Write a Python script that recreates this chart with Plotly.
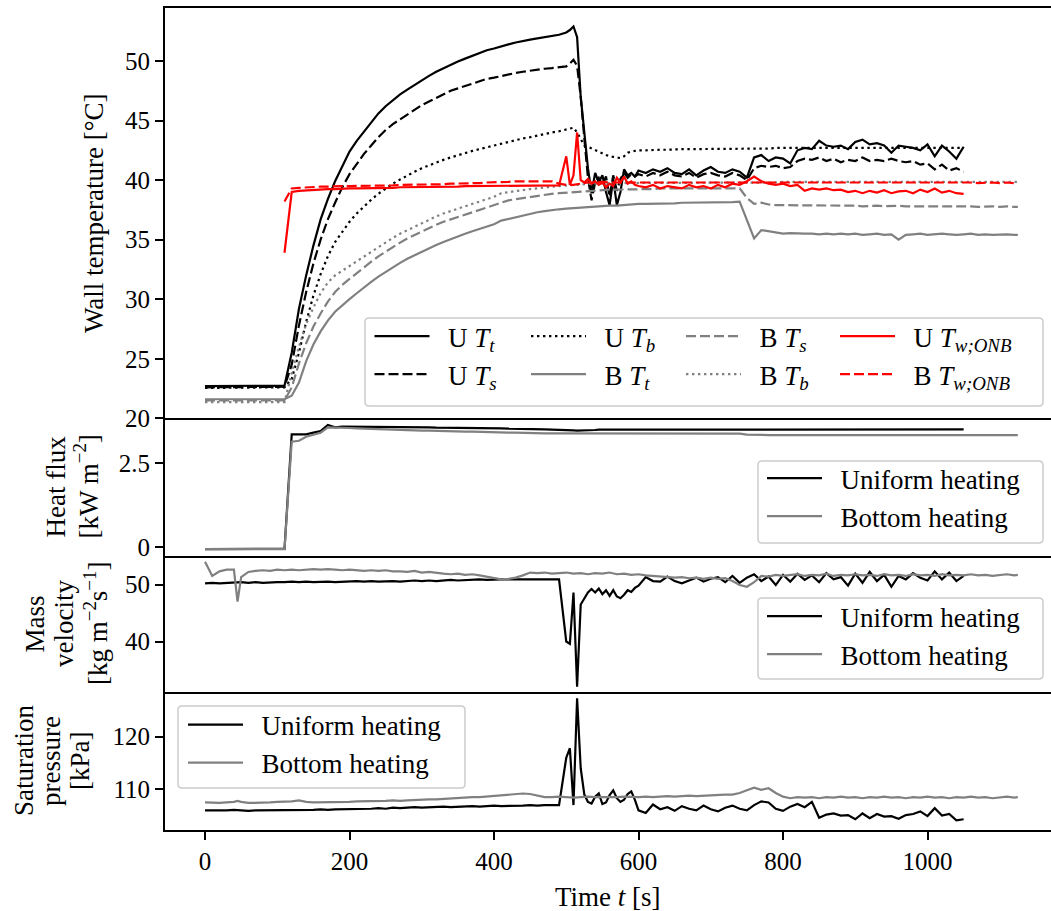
import plotly.graph_objects as go
from plotly.subplots import make_subplots

FONT = "Liberation Serif"
GRAY = "#808080"
RED = "#ff0000"

# ---------------------------------------------------------------------------
# Sampling times [s]: uniform-heating run (U) and bottom-heating run (B)
# ---------------------------------------------------------------------------
t_u = list(range(0, 500, 10)) + list(range(500, 600, 5)) + list(range(600, 1051, 10))
t_b = [0, 10, 20, 30, 40, 45, 50] + list(range(60, 1121, 10)) + [1125]

# ---------------------------------------------------------------------------
# Wall temperatures [degC]
# ---------------------------------------------------------------------------
u_Tt = [
    22.7, 22.7, 22.7, 22.7, 22.7, 22.7, 22.7, 22.7, 22.7, 22.7,
    22.7, 22.75, 25.5, 29.2, 32.0, 34.5, 36.7, 38.4, 39.9, 41.2,
    42.4, 43.3, 44.1, 44.9, 45.6, 46.2, 46.7, 47.2, 47.6, 48.0,
    48.4, 48.75, 49.1, 49.4, 49.7, 49.95, 50.2, 50.45, 50.7, 50.9,
    51.05, 51.25, 51.4, 51.55, 51.7, 51.8, 51.9, 52.0, 52.1, 52.2,
    52.4, 52.6, 52.9, 52.0, 47.0, 43.8, 41.0, 38.9, 40.6, 39.8,
    40.4, 39.0, 37.9, 40.1, 37.9, 39.0, 40.9, 40.4, 40.6, 40.3,
    40.8, 40.6, 40.9, 40.7, 41.0, 40.6, 40.5, 40.9, 40.4, 40.8,
    41.1, 40.7, 40.6, 40.9, 40.7, 40.2, 41.9, 42.1, 41.6, 41.9,
    41.8, 41.4, 42.5, 42.7, 42.6, 43.3, 42.9, 42.8, 42.9, 42.6,
    43.2, 43.4, 43.0, 43.1, 42.9, 42.3, 42.9, 42.8, 42.7, 42.5,
    43.0, 42.0, 42.9, 42.4, 41.8, 42.8,
]
u_Ts = [
    22.6, 22.6, 22.6, 22.6, 22.6, 22.6, 22.6, 22.6, 22.6, 22.6,
    22.6, 22.65, 24.5, 27.8, 30.6, 33.0, 35.0, 36.7, 38.1, 39.4,
    40.5, 41.4, 42.2, 42.9, 43.6, 44.2, 44.7, 45.1, 45.5, 45.9,
    46.3, 46.6, 46.9, 47.2, 47.5, 47.7, 47.9, 48.1, 48.3, 48.5,
    48.6, 48.75, 48.9, 49.0, 49.1, 49.2, 49.3, 49.35, 49.4, 49.45,
    49.55, 49.8, 50.1, 49.6, 47.0, 43.5, 40.2, 38.3, 39.8, 40.2,
    39.6, 40.3, 38.6, 40.4, 39.1, 40.1, 40.6, 40.2, 40.5, 40.3,
    40.5, 40.3, 40.6, 40.4, 40.7, 40.4, 40.3, 40.6, 40.2, 40.5,
    40.6, 40.4, 40.3, 40.6, 40.4, 40.0, 41.0, 41.2, 41.1, 41.2,
    41.0, 41.1, 41.6, 41.8, 41.7, 41.9, 41.6, 41.8, 41.5, 41.7,
    41.6, 41.9, 41.6, 41.7, 41.6, 41.8, 41.6, 41.5, 41.6, 41.3,
    41.4, 40.9, 41.3, 40.8, 41.0, 40.7,
]
u_Tb = [
    22.55, 22.55, 22.55, 22.55, 22.55, 22.55, 22.55, 22.55, 22.55, 22.55,
    22.55, 22.6, 23.3, 25.5, 28.1, 30.3, 32.1, 33.6, 34.8, 35.7,
    36.5, 37.2, 37.8, 38.35, 38.85, 39.3, 39.7, 40.05, 40.4, 40.7,
    41.0, 41.25, 41.5, 41.7, 41.9, 42.1, 42.3, 42.45, 42.6, 42.75,
    42.9, 43.1, 43.25, 43.4, 43.5, 43.6, 43.75, 43.85, 44.0, 44.1,
    44.25, 44.35, 44.4, 44.0, 43.4, 42.9, 42.8, 42.65, 42.5, 42.35,
    42.2, 42.1, 42.0, 41.95, 41.9, 41.85, 42.0, 42.3, 42.4, 42.45,
    42.5, 42.5, 42.55, 42.55, 42.55, 42.6, 42.6, 42.6, 42.6, 42.6,
    42.6, 42.6, 42.6, 42.65, 42.65, 42.6, 42.65, 42.65, 42.65, 42.7,
    42.7, 42.7, 42.7, 42.7, 42.7, 42.7, 42.7, 42.7, 42.7, 42.7,
    42.7, 42.7, 42.7, 42.7, 42.7, 42.7, 42.7, 42.7, 42.7, 42.7,
    42.7, 42.7, 42.7, 42.7, 42.7, 42.7,
]
u_Tonb = [
    None, None, None, None, None, None, None, None, None, None,
    None, 33.9, 39.0, 39.1, 39.15, 39.2, 39.2, 39.25, 39.25, 39.3,
    39.3, 39.3, 39.3, 39.35, 39.35, 39.35, 39.35, 39.4, 39.4, 39.4,
    39.4, 39.4, 39.45, 39.45, 39.45, 39.45, 39.5, 39.5, 39.5, 39.5,
    39.5, 39.55, 39.55, 39.55, 39.55, 39.5, 39.55, 39.55, 39.5, 39.55,
    42.0, 39.6, 40.4, 44.0, 40.0, 39.8, 40.1, 39.7, 39.9, 39.6,
    39.8, 39.4, 39.7, 39.5, 40.2, 39.8, 40.3, 39.7, 39.9, 39.6,
    39.5, 39.4, 39.6, 39.3, 39.5, 39.4, 39.3, 39.6, 39.4, 39.5,
    39.3, 39.6, 39.4, 39.7, 39.6, 39.9, 40.3, 39.9, 39.7, 39.6,
    39.7, 39.5, 39.6, 39.1, 39.3, 39.2, 39.3, 39.15, 39.2, 39.0,
    39.1, 38.9, 39.1, 38.95, 39.15, 38.9, 39.05, 39.1, 38.9, 39.2,
    39.0, 39.3, 38.95, 39.1, 38.9, 38.85,
]
b_Tt = [
    21.6, 21.6, 21.6, 21.6, 21.6, 21.6, 21.6,
    21.6, 21.6, 21.6, 21.6, 21.6, 21.6, 21.9, 23.0, 24.8, 26.2,
    27.3, 28.2, 28.95, 29.5, 30.0, 30.5, 31.0, 31.45, 31.9, 32.3,
    32.7, 33.05, 33.4, 33.7, 34.0, 34.3, 34.55, 34.8, 35.05, 35.3,
    35.5, 35.7, 35.9, 36.1, 36.3, 36.6, 36.75, 36.9, 37.05, 37.2,
    37.3, 37.4, 37.5, 37.55, 37.6, 37.65, 37.7, 37.75, 37.8, 37.8,
    37.85, 37.85, 37.9, 38.0, 38.0, 38.0, 38.0, 38.05, 38.05, 38.05,
    38.1, 38.1, 38.1, 38.1, 38.1, 38.15, 38.15, 38.15, 38.2, 36.6,
    35.1, 35.8, 35.7, 35.6, 35.5, 35.55, 35.5, 35.5, 35.5, 35.45,
    35.5, 35.45, 35.5, 35.45, 35.5, 35.4, 35.45, 35.5, 35.4, 35.45,
    35.0, 35.4, 35.45, 35.5, 35.4, 35.45, 35.5, 35.45, 35.4, 35.45,
    35.5, 35.4, 35.45, 35.4, 35.45, 35.45, 35.4,
    35.4,
]
b_Ts = [
    21.5, 21.5, 21.5, 21.5, 21.5, 21.5, 21.5,
    21.5, 21.5, 21.5, 21.5, 21.5, 21.5, 22.6, 24.6, 26.3, 27.7,
    28.8, 29.8, 30.6, 31.2, 31.7, 32.2, 32.7, 33.15, 33.6, 34.0,
    34.4, 34.75, 35.1, 35.4, 35.7, 36.0, 36.25, 36.5, 36.7, 36.9,
    37.1, 37.3, 37.5, 37.7, 37.9, 38.15, 38.3, 38.4, 38.5, 38.6,
    38.7, 38.8, 38.85, 38.9, 38.95, 39.0, 39.05, 39.1, 39.1, 39.15,
    39.2, 39.2, 39.2, 39.25, 39.25, 39.25, 39.25, 39.3, 39.3, 39.3,
    39.3, 39.3, 39.3, 39.3, 39.3, 39.3, 39.3, 39.3, 39.3, 38.5,
    38.0, 38.1, 37.95, 37.9, 37.9, 37.9, 37.85, 37.9, 37.9, 37.85,
    37.9, 37.85, 37.85, 37.9, 37.85, 37.8, 37.85, 37.85, 37.8, 37.85,
    37.85, 37.8, 37.8, 37.85, 37.8, 37.8, 37.85, 37.8, 37.8, 37.8,
    37.8, 37.75, 37.8, 37.8, 37.75, 37.8, 37.75,
    37.75,
]
b_Tb = [
    21.35, 21.35, 21.35, 21.35, 21.35, 21.35, 21.35,
    21.35, 21.35, 21.35, 21.35, 21.35, 21.35, 23.8, 26.0, 27.9, 29.3,
    30.5, 31.4, 32.0, 32.4, 32.8, 33.2, 33.6, 34.0, 34.4, 34.8,
    35.15, 35.5, 35.8, 36.1, 36.4, 36.7, 36.95, 37.2, 37.4, 37.6,
    37.8, 38.0, 38.2, 38.4, 38.6, 38.9, 39.0, 39.1, 39.15, 39.25,
    39.3, 39.4, 39.45, 39.5, 39.55, 39.6, 39.65, 39.7, 39.75, 39.75,
    39.75, 39.75, 39.8, 39.8, 39.8, 39.8, 39.8, 39.8, 39.8, 39.8,
    39.8, 39.8, 39.8, 39.8, 39.8, 39.8, 39.8, 39.8, 39.8, 39.8,
    39.8, 39.8, 39.8, 39.8, 39.85, 39.85, 39.85, 39.85, 39.85, 39.85,
    39.85, 39.85, 39.85, 39.85, 39.85, 39.85, 39.85, 39.85, 39.85, 39.85,
    39.85, 39.85, 39.85, 39.85, 39.85, 39.85, 39.85, 39.85, 39.85, 39.85,
    39.85, 39.85, 39.85, 39.85, 39.85, 39.85, 39.85,
    39.85,
]
b_Tonb = [
    None, None, None, None, None, None, None,
    None, None, None, None, None, 38.2, 39.3, 39.35, 39.4, 39.4,
    39.45, 39.45, 39.5, 39.5, 39.5, 39.5, 39.55, 39.55, 39.55, 39.55,
    39.55, 39.6, 39.6, 39.6, 39.6, 39.65, 39.65, 39.65, 39.7, 39.7,
    39.7, 39.75, 39.75, 39.8, 39.8, 39.85, 39.85, 39.9, 39.9, 39.9,
    39.9, 39.9, 39.9, 39.7, 39.6, 39.6, 39.7, 39.8, 39.8, 39.85,
    39.8, 39.8, 39.8, 39.8, 39.8, 39.8, 39.8, 39.8, 39.8, 39.8,
    39.8, 39.8, 39.85, 39.8, 39.8, 39.85, 39.8, 39.8, 39.8, 39.85,
    39.8, 39.8, 39.8, 39.8, 39.8, 39.8, 39.8, 39.8, 39.8, 39.8,
    39.8, 39.8, 39.8, 39.8, 39.8, 39.8, 39.8, 39.8, 39.8, 39.8,
    39.8, 39.8, 39.8, 39.8, 39.8, 39.8, 39.8, 39.8, 39.8, 39.8,
    39.8, 39.75, 39.8, 39.8, 39.75, 39.8, 39.75,
    39.75,
]

# ---------------------------------------------------------------------------
# Heat flux [kW m^-2]
# ---------------------------------------------------------------------------
u_q = [
    -0.06, -0.06, -0.06, -0.06, -0.06, -0.06, -0.06, -0.06, -0.06, -0.06,
    -0.06, -0.05, 3.37, 3.37, 3.37, 3.42, 3.47, 3.65, 3.58, 3.6,
    3.6, 3.6, 3.6, 3.6, 3.59, 3.59, 3.59, 3.59, 3.58, 3.58,
    3.58, 3.58, 3.57, 3.57, 3.57, 3.56, 3.56, 3.56, 3.55, 3.55,
    3.55, 3.55, 3.54, 3.54, 3.53, 3.53, 3.52, 3.52, 3.51, 3.51,
    3.5, 3.5, 3.49, 3.48, 3.48, 3.49, 3.5, 3.5, 3.5, 3.51,
    3.51, 3.51, 3.51, 3.51, 3.51, 3.52, 3.52, 3.52, 3.52, 3.52,
    3.52, 3.52, 3.52, 3.52, 3.52, 3.52, 3.52, 3.52, 3.52, 3.52,
    3.52, 3.52, 3.52, 3.52, 3.52, 3.52, 3.52, 3.52, 3.52, 3.52,
    3.52, 3.52, 3.52, 3.52, 3.52, 3.52, 3.52, 3.52, 3.52, 3.52,
    3.52, 3.52, 3.52, 3.52, 3.52, 3.52, 3.52, 3.52, 3.52, 3.52,
    3.52, 3.52, 3.52, 3.52, 3.52, 3.52,
]
b_q = [
    -0.06, -0.06, -0.06, -0.06, -0.06, -0.06, -0.06,
    -0.06, -0.06, -0.06, -0.06, -0.06, -0.06, 3.15, 3.18, 3.3, 3.36,
    3.42, 3.58, 3.58, 3.57, 3.56, 3.55, 3.54, 3.53, 3.53, 3.52,
    3.51, 3.5, 3.5, 3.49, 3.48, 3.48, 3.47, 3.47, 3.46, 3.46,
    3.45, 3.45, 3.44, 3.44, 3.43, 3.43, 3.42, 3.42, 3.41, 3.41,
    3.41, 3.4, 3.4, 3.4, 3.4, 3.4, 3.4, 3.4, 3.4, 3.4,
    3.4, 3.4, 3.4, 3.4, 3.4, 3.4, 3.4, 3.4, 3.4, 3.4,
    3.4, 3.4, 3.4, 3.4, 3.4, 3.4, 3.4, 3.4, 3.39, 3.36,
    3.35, 3.35, 3.35, 3.35, 3.35, 3.35, 3.35, 3.35, 3.35, 3.35,
    3.35, 3.35, 3.35, 3.35, 3.35, 3.35, 3.35, 3.35, 3.35, 3.35,
    3.35, 3.35, 3.35, 3.35, 3.35, 3.35, 3.35, 3.35, 3.35, 3.35,
    3.35, 3.35, 3.35, 3.35, 3.35, 3.35, 3.35,
    3.35,
]

# ---------------------------------------------------------------------------
# Mass velocity [kg m^-2 s^-1]
# ---------------------------------------------------------------------------
u_G = [
    50.2, 50.3, 50.2, 50.3, 50.3, 50.4, 50.3, 50.4, 50.3, 50.4,
    50.4, 50.4, 50.5, 50.4, 50.5, 50.4, 50.5, 50.5, 50.4, 50.5,
    50.5, 50.6, 50.5, 50.6, 50.5, 50.6, 50.6, 50.5, 50.6, 50.7,
    50.6, 50.7, 50.6, 50.7, 50.8, 50.7, 50.8, 50.8, 50.9, 50.8,
    50.9, 50.9, 50.9, 50.9, 50.9, 50.9, 50.9, 50.9, 50.9, 50.9,
    40.0, 39.6, 48.6, 32.1, 46.5, 47.5, 48.6, 49.2, 48.6, 49.3,
    48.3, 49.0, 48.0, 49.0, 47.9, 47.6, 48.2, 49.0, 48.7, 49.4,
    49.8, 51.3, 50.6, 50.5, 51.4, 50.6, 50.2, 50.7, 51.2, 50.5,
    51.0, 51.3, 50.4, 51.5, 50.3, 51.2, 51.8, 50.6, 51.4, 49.9,
    51.7, 50.5, 51.9, 50.8, 51.6, 50.4, 52.0, 50.9, 51.3, 49.8,
    51.9, 50.3, 52.2, 50.6, 51.7, 49.6, 51.5, 50.9, 52.0, 51.2,
    50.7, 52.3, 50.9, 52.1, 50.6, 51.5,
]
b_G = [
    54.0, 51.5, 52.3, 52.6, 52.6, 47.0, 51.3,
    52.2, 52.4, 52.5, 52.4, 52.6, 52.5, 52.6, 52.5, 52.6, 52.7,
    52.6, 52.7, 52.6, 52.5, 52.6, 52.5, 52.4, 52.5, 52.4, 52.5,
    52.3, 52.3, 52.2, 52.4, 52.1, 52.2, 52.0, 51.9, 51.8, 51.9,
    51.7, 51.8, 51.6, 51.4, 51.2, 50.9, 51.0, 51.2, 51.6, 52.1,
    52.0, 52.1, 51.9, 52.0, 52.1, 51.9, 52.0, 51.8, 52.0, 51.9,
    52.1, 51.8, 51.9, 51.7, 51.8, 51.6, 51.5, 51.4, 51.3, 51.2,
    51.3, 51.1, 51.2, 51.0, 51.2, 51.0, 51.1, 50.6, 49.9, 49.6,
    50.4, 51.5, 51.4, 51.7, 51.5, 51.6, 51.8, 51.5, 51.7, 51.6,
    51.9, 51.5, 51.7, 51.6, 51.8, 51.6, 51.7, 51.5, 51.8, 51.6,
    51.7, 51.5, 51.8, 51.6, 51.7, 51.5, 51.8, 51.6, 51.7, 51.6,
    51.8, 51.6, 51.7, 51.5, 51.7, 51.8, 51.6,
    51.7,
]

# ---------------------------------------------------------------------------
# Saturation pressure [kPa]
# ---------------------------------------------------------------------------
u_p = [
    106.0, 106.0, 105.9, 106.0, 106.1, 106.0, 105.9, 106.0, 106.0, 106.1,
    106.0, 106.0, 106.1, 106.1, 106.0, 106.1, 106.2, 106.1, 106.2, 106.2,
    106.3, 106.2, 106.3, 106.3, 106.4, 106.3, 106.5, 106.4, 106.5, 106.6,
    106.5, 106.6, 106.6, 106.7, 106.6, 106.7, 106.7, 106.8, 106.7, 106.8,
    106.9, 106.8, 106.8, 106.9, 106.9, 107.0, 106.9, 107.0, 107.0, 107.0,
    116.0, 117.8, 107.0, 127.3, 114.0, 109.0, 107.6, 107.3, 108.6, 109.2,
    107.2, 107.5, 108.9, 109.8, 108.3, 107.6, 108.0, 109.1, 109.6, 108.0,
    106.0, 105.5, 107.1, 106.2, 106.6, 105.9, 106.8, 106.3, 106.0, 106.9,
    106.2, 105.8, 106.5, 106.9, 106.3, 106.0, 107.0, 107.7, 107.5, 106.3,
    105.9, 106.7, 107.2, 106.6, 107.6, 104.6, 105.2, 105.4, 105.0, 105.1,
    104.3, 105.4, 104.5, 105.3, 104.8, 104.9, 104.4, 105.1, 105.3, 105.8,
    104.9, 106.4, 105.0, 105.3, 104.1, 104.3,
]
b_p = [
    107.5, 107.4, 107.4, 107.5, 107.6, 107.8, 107.6,
    107.4, 107.4, 107.5, 107.5, 107.6, 107.6, 107.7, 107.9, 107.6, 107.5,
    107.5, 107.6, 107.5, 107.6, 107.6, 107.7, 107.7, 107.8, 107.7, 107.8,
    107.9, 107.8, 107.9, 108.0, 108.0, 108.1, 108.1, 108.2, 108.3, 108.3,
    108.4, 108.5, 108.5, 108.6, 108.7, 108.8, 109.0, 109.1, 109.2, 109.1,
    108.8, 108.5, 108.5, 108.6, 108.5, 108.4, 108.5, 108.6, 108.5, 108.5,
    108.4, 108.5, 108.6, 108.5, 108.5, 108.6, 108.5, 108.6, 108.7, 108.6,
    108.7, 108.8, 108.7, 108.8, 108.9, 108.9, 109.0, 109.0, 109.3, 109.8,
    110.3, 109.9, 110.2, 109.3, 108.6, 108.3, 108.5, 108.4, 108.5, 108.3,
    108.5, 108.4, 108.6, 108.4, 108.5, 108.3, 108.5, 108.4, 108.6, 108.4,
    108.5, 108.3, 108.5, 108.4, 108.6, 108.4, 108.5, 108.3, 108.5, 108.4,
    108.6, 108.4, 108.5, 108.3, 108.5, 108.6, 108.4,
    108.5,
]

for s in (u_Tt, u_Ts, u_Tb, u_Tonb, u_q, u_G, u_p):
    assert len(s) == len(t_u), len(s)
for s in (b_Tt, b_Ts, b_Tb, b_Tonb, b_q, b_G, b_p):
    assert len(s) == len(t_b), len(s)

# ---------------------------------------------------------------------------
# Page geometry (pixels) and helpers to place things in paper coordinates
# ---------------------------------------------------------------------------
W, H = 1051, 911
ML, MR, MT, MB = 165, 0, 8, 81
PW, PH = W - ML - MR, H - MT - MB


def px(x):
    return (x - ML) / PW


def py(y):
    return (H - MB - y) / PH


def rounded_box(x0, y0, x1, y1, r=4):
    def P(x, y):
        return f"{px(x):.5f},{py(y):.5f}"
    return (f"M{P(x0 + r, y0)} L{P(x1 - r, y0)} Q{P(x1, y0)} {P(x1, y0 + r)} "
            f"L{P(x1, y1 - r)} Q{P(x1, y1)} {P(x1 - r, y1)} "
            f"L{P(x0 + r, y1)} Q{P(x0, y1)} {P(x0, y1 - r)} "
            f"L{P(x0, y0 + r)} Q{P(x0, y0)} {P(x0 + r, y0)} Z")


LW = 2.2
DASH = "10px,4px"
DOT = "2.4px,3.6px"
SP = "\u2002"  # small gap between legend sample line and its label

fig = make_subplots(rows=4, cols=1, shared_xaxes=True, vertical_spacing=0)

# top panel: wall temperatures, legend split into four columns
temp_series = [
    (u_Tt, t_u, "U <i>T<sub>t</sub></i>", "black", "solid", "legend", 1),
    (u_Ts, t_u, "U <i>T<sub>s</sub></i>", "black", DASH, "legend", 2),
    (u_Tb, t_u, "U <i>T<sub>b</sub></i>", "black", DOT, "legend5", 1),
    (b_Tt, t_b, "B <i>T<sub>t</sub></i>", GRAY, "solid", "legend5", 2),
    (b_Ts, t_b, "B <i>T<sub>s</sub></i>", GRAY, DASH, "legend6", 1),
    (b_Tb, t_b, "B <i>T<sub>b</sub></i>", GRAY, DOT, "legend6", 2),
    (u_Tonb, t_u, "U <i>T<sub>w;ONB</sub></i>", RED, "solid", "legend7", 1),
    (b_Tonb, t_b, "B <i>T<sub>w;ONB</sub></i>", RED, DASH, "legend7", 2),
]
for i, (vals, tt, name, col, dash, leg, rank) in enumerate(temp_series):
    fig.add_trace(go.Scatter(x=tt, y=vals, mode="lines", name=SP + name,
                             line=dict(color=col, width=LW, dash=dash),
                             legend=leg, legendrank=rank, legendgroup=f"g{i}",
                             connectgaps=False), row=1, col=1)

panel_pairs = [
    (u_q, b_q, 2, "legend2"),
    (u_G, b_G, 3, "legend3"),
    (u_p, b_p, 4, "legend4"),
]
for uv, bv, row, leg in panel_pairs:
    fig.add_trace(go.Scatter(x=t_u, y=uv, mode="lines", name=SP + "Uniform heating",
                             line=dict(color="black", width=LW), legend=leg,
                             legendgroup=f"{leg}u"), row=row, col=1)
    fig.add_trace(go.Scatter(x=t_b, y=bv, mode="lines", name=SP + "Bottom heating",
                             line=dict(color=GRAY, width=LW), legend=leg,
                             legendgroup=f"{leg}b"), row=row, col=1)

# ---------------------------------------------------------------------------
# Axes: each panel draws its own bottom edge, the top panel also its top edge
# ---------------------------------------------------------------------------
XR = [-55.4, (W - MR - 205) / 0.7225]
tickfont = dict(family=FONT, size=25, color="black")
bounds = [8, 418.3, 555.7, 692.3, 830]
for r in range(1, 5):
    dom = [py(bounds[r]), py(bounds[r - 1])]
    last = r == 4
    fig.update_xaxes(row=r, col=1, range=XR, domain=[0, 1], showline=True,
                     mirror=(r == 1), linecolor="black", linewidth=2,
                     showgrid=False, zeroline=False,
                     ticks="outside" if last else "", ticklen=8, tickwidth=2,
                     tickcolor="black", showticklabels=last,
                     tickvals=[0, 200, 400, 600, 800, 1000], tickfont=tickfont)
    fig.update_yaxes(row=r, col=1, domain=dom, showline=True, mirror=False,
                     linecolor="black", linewidth=2, showgrid=False,
                     zeroline=False, ticks="outside", ticklen=8, tickwidth=2,
                     tickcolor="black", tickfont=tickfont)

fig.update_yaxes(row=1, col=1, range=[20, 54.45], tickvals=[20, 25, 30, 35, 40, 45, 50])
fig.update_yaxes(row=2, col=1, range=[-0.255, 3.85], tickvals=[0, 2.5], ticktext=["0", "2.5"])
fig.update_yaxes(row=3, col=1, range=[31.1, 55.05], tickvals=[40, 50])
fig.update_yaxes(row=4, col=1, range=[102.26, 128.44], tickvals=[110, 120])

# ---------------------------------------------------------------------------
# Legends (transparent, framed by rounded boxes drawn below them)
# ---------------------------------------------------------------------------
LFS = 27
legfont = dict(family=FONT, size=LFS, color="black")


def legend_at(x_line, y_top, gap):
    return dict(x=px(x_line - 5), y=py(y_top), xanchor="left", yanchor="top",
                orientation="v", bgcolor="rgba(0,0,0,0)", borderwidth=0,
                font=legfont, itemwidth=55, tracegroupgap=gap,
                traceorder="normal")


boxes = [
    (365, 318, 1043, 406),
    (758, 461, 1043, 543),
    (758, 598, 1043, 679),
    (178, 706, 465, 788),
]
shapes = [dict(type="path", path=rounded_box(*b), xref="paper", yref="paper",
               fillcolor="rgba(255,255,255,0.8)",
               line=dict(color="#cccccc", width=1.5), layer="above")
          for b in boxes]

fig.update_layout(
    legend=legend_at(374.5, 312, 6),
    legend5=legend_at(531, 312, 6),
    legend6=legend_at(686, 312, 6),
    legend7=legend_at(840, 312, 6),
    legend2=legend_at(767, 454, 3),
    legend3=legend_at(767, 592, 3),
    legend4=legend_at(188, 700.5, 3),
    shapes=shapes,
)

# ---------------------------------------------------------------------------
# Axis titles (the stacked y labels are set one line at a time)
# ---------------------------------------------------------------------------
titlefont = dict(family=FONT, size=27, color="black")
ytitle_lines = [
    ("Wall temperature [°C]", 94, 213),
    ("Heat flux", 55.5, 487),
    ("[kW m<sup>−2</sup>]", 86.5, 487),
    ("Mass", 34.5, 624),
    ("velocity", 64, 624),
    ("[kg m<sup>−2</sup>s<sup>−1</sup>]", 96, 624),
    ("Saturation", 24, 761),
    ("pressure", 51, 761),
    ("[kPa]", 80, 761),
]
annotations = []
for text, xc, yc in ytitle_lines:
    annotations.append(dict(text=text, x=px(xc), y=py(yc), xref="paper",
                            yref="paper", xanchor="center", yanchor="middle",
                            textangle=-90, showarrow=False, font=titlefont))
annotations.append(dict(text="Time <i>t</i> [s]", x=px(608), y=py(897),
                        xref="paper", yref="paper", xanchor="center",
                        yanchor="middle", showarrow=False, font=titlefont))

fig.update_layout(
    annotations=annotations,
    width=W, height=H,
    margin=dict(l=ML, r=MR, t=MT, b=MB, pad=0),
    paper_bgcolor="white", plot_bgcolor="white",
    font=dict(family=FONT, size=25, color="black"),
    showlegend=True,
)

fig.write_html("out.html")
